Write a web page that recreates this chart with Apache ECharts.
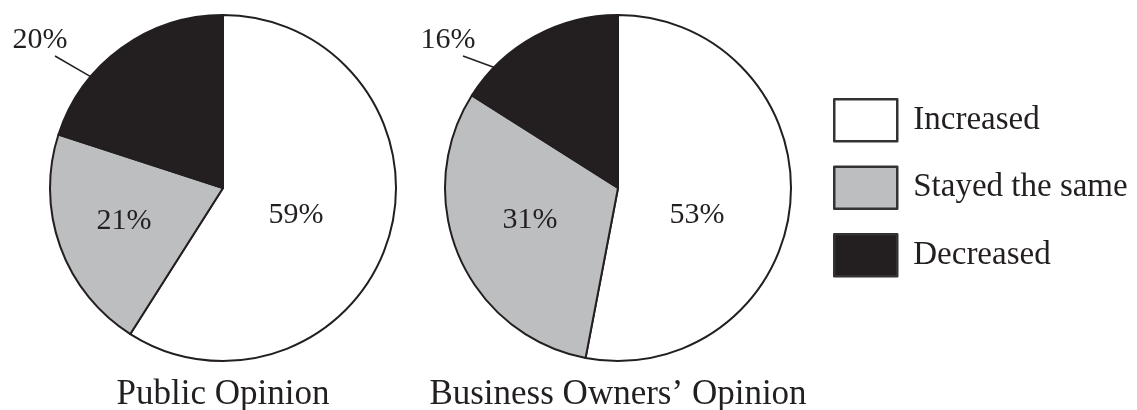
<!DOCTYPE html>
<html>
<head>
<meta charset="utf-8">
<title>Opinion pies</title>
<script src="https://cdn.jsdelivr.net/npm/echarts@6/dist/echarts.min.js"></script>
<style>
  html, body { margin: 0; padding: 0; background: #ffffff; }
  #chart { width: 1137px; height: 410px; }
</style>
</head>
<body>
<div id="chart"></div>
<script>
// Share of answers per category, in percent
const categories = ['Increased', 'Stayed the same', 'Decreased'];
const publicOpinion = [59, 21, 20];
const ownersOpinion = [53, 31, 16];
const pieTitles = ['Public Opinion', 'Business Owners\u2019 Opinion'];

// Styling and layout
const FONT = '"Liberation Serif", "Times New Roman", serif';
const INK = '#231f20';
const SLICE_COLORS = ['#ffffff', '#bcbec0', '#231f20'];
const PIE_R = 173;
const PIE_CENTERS = [[223, 188], [618, 188]];
// label anchors relative to each pie centre (inside labels for first two categories)
const INSIDE_LABEL_OFFSETS = [
  [[73, 27], [-99, 33]],
  [[79, 27], [-88, 32]]
];
const OUTSIDE_LABEL_OFFSETS = [[-183, -148], [-170, -148]];

const seriesValues = [publicOpinion, ownersOpinion];

function makeLabelLayout(s) {
  return function (params) {
    const [cx, cy] = PIE_CENTERS[s];
    const i = params.dataIndex;
    if (i < 2) {
      const [dx, dy] = INSIDE_LABEL_OFFSETS[s][i];
      return { x: cx + dx, y: cy + dy, align: 'center', verticalAlign: 'middle' };
    }
    // leader line runs from inside the slice up to the label's lower corner
    const vals = seriesValues[s];
    const total = vals.reduce((a, b) => a + b, 0);
    const before = vals.slice(0, i).reduce((a, b) => a + b, 0);
    const mid = (before + vals[i] / 2) / total * 360;
    const a = (mid - 12) * Math.PI / 180;
    const sx = cx + 0.84 * PIE_R * Math.sin(a);
    const sy = cy - 0.84 * PIE_R * Math.cos(a);
    const lx = cx + OUTSIDE_LABEL_OFFSETS[s][0];
    const ly = cy + OUTSIDE_LABEL_OFFSETS[s][1];
    const ex = lx + 15, ey = ly + 16;
    return {
      x: lx, y: ly, align: 'center', verticalAlign: 'middle',
      labelLinePoints: [[sx, sy], [(sx + ex) / 2, (sy + ey) / 2], [ex, ey]]
    };
  };
}

function makePie(s) {
  return {
    type: 'pie',
    name: pieTitles[s],
    center: PIE_CENTERS[s],
    radius: PIE_R,
    startAngle: 90,
    clockwise: true,
    avoidLabelOverlap: false,
    silent: true,
    animation: false,
    itemStyle: { borderColor: INK, borderWidth: 2 },
    label: {
      show: true,
      position: 'inside',
      formatter: '{c}%',
      color: INK,
      fontFamily: FONT,
      fontSize: 30
    },
    labelLine: { show: true, length: 10, length2: 10, lineStyle: { color: INK, width: 1.5 } },
    labelLayout: makeLabelLayout(s),
    data: categories.map((name, i) => ({
      name: name,
      value: seriesValues[s][i],
      itemStyle: { color: SLICE_COLORS[i] },
      label: i === 2 ? { position: 'outside' } : undefined
    }))
  };
}

const chart = echarts.init(document.getElementById('chart'), null, { renderer: 'canvas' });
chart.setOption({
  backgroundColor: '#ffffff',
  animation: false,
  title: pieTitles.map((t, s) => ({
    text: t,
    left: PIE_CENTERS[s][0],
    top: 377,
    textAlign: 'center',
    padding: 0,
    textStyle: { fontFamily: FONT, fontSize: 35, fontWeight: 'normal', color: INK }
  })),
  legend: {
    orient: 'vertical',
    left: 833,
    top: 98,
    padding: 0,
    itemWidth: 63,
    itemHeight: 42,
    itemGap: 23,
    icon: 'rect',
    selectedMode: false,
    data: categories,
    itemStyle: { borderColor: '#333333', borderWidth: 2.5 },
    textStyle: { fontFamily: FONT, fontSize: 33, color: INK, padding: [0, 0, 0, 11] }
  },
  series: [makePie(0), makePie(1)]
});
</script>
</body>
</html>
